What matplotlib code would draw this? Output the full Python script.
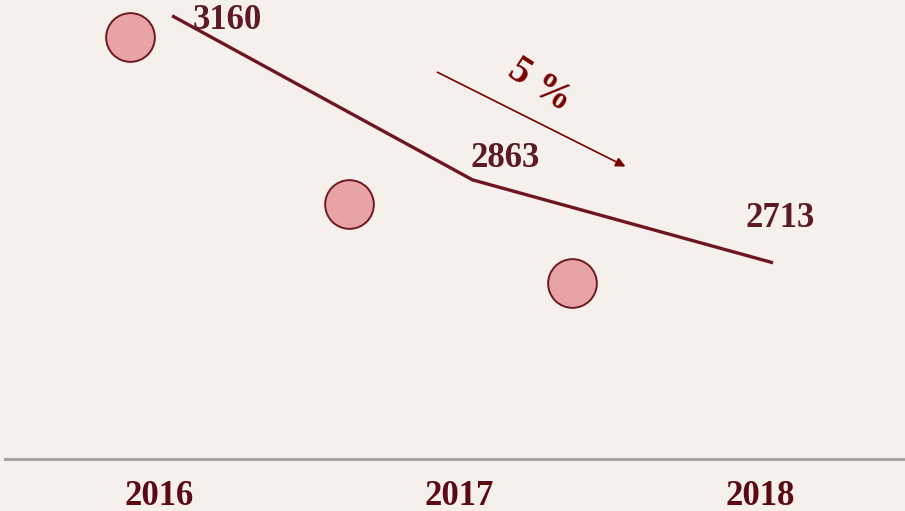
import matplotlib
matplotlib.use("Agg")
import matplotlib.pyplot as plt

# data
years = ["2016", "2017", "2018"]
values = [3160, 2863, 2713]
# second series drawn as circles (offset between the years)
circle_x = [-0.14, 0.59, 1.33]
circle_y = [3122, 2820, 2677]
change_label = "5 %"

bg = "#F5F0EC"
maroon = "#6E1520"

fig = plt.figure(figsize=(9.05, 5.11), dpi=100, facecolor=bg)
ax = fig.add_axes([5/905, 52/511, 900/905, 459/511])
ax.set_facecolor(bg)

xs = list(range(len(years)))
ax.plot(xs, values, color=maroon, lw=2.4, solid_capstyle="butt", zorder=3)
ax.scatter(circle_x, circle_y, s=1230, facecolor="#E8A3A5", edgecolor="#6E1A22",
           linewidth=1.4, zorder=2)

# value labels
offs = [(0.185, -8), (0.11, 38), (0.025, 80)]
for x, v, (dx, dy) in zip(xs, values, offs):
    ax.text(x + dx, v + dy, str(v), ha="center", va="center", fontsize=25,
            fontweight="bold", family="Liberation Serif", color="#5C1A22", zorder=4)

# change arrow
ax.annotate("", xy=(1.517, 2885), xytext=(0.875, 3060),
            arrowprops=dict(arrowstyle="-|>", color="#7A0000", lw=1.2,
                            mutation_scale=14), zorder=4)
ax.text(1.225, 3033, change_label, rotation=-33, ha="center", va="center",
        fontsize=28, fontweight="bold", family="Liberation Serif", color="#7A0000")

ax.set_xlim(-0.556, 2.439)
ax.set_ylim(2358, 3188.5)
for s in ["top", "right", "left"]:
    ax.spines[s].set_visible(False)
ax.spines["bottom"].set_color("#A8A4A2")
ax.spines["bottom"].set_linewidth(2.2)
ax.set_yticks([])
ax.set_xticks([x - 0.044 for x in xs])
ax.set_xticklabels(years, fontsize=25, fontweight="bold", family="Liberation Serif",
                   color="#5C0A12")
ax.tick_params(axis="x", length=0, pad=15)

fig.savefig("out.png", dpi=100, facecolor=bg)
